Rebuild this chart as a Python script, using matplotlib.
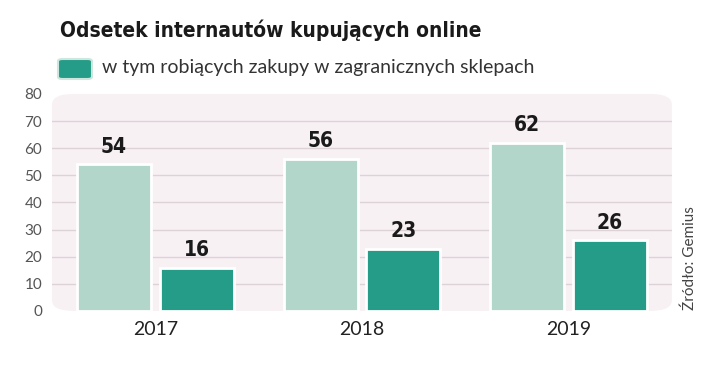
import matplotlib.pyplot as plt
from matplotlib.patches import FancyBboxPatch
import numpy as np

# Data
years = ['2017', '2018', '2019']
all_online = [54, 56, 62]        # odsetek internautów kupujących online
foreign_shops = [16, 23, 26]     # w tym robiących zakupy w zagranicznych sklepach
y_ticks = [0, 10, 20, 30, 40, 50, 60, 70, 80]

light_col = '#b3d6ca'
dark_col = '#259c87'
bg_col = '#f8f1f4'
grid_col = '#dcd2d7'

plt.rcParams['font.family'] = ['Lato', 'DejaVu Sans']
bold_font = dict(family=['DejaVu Sans'], stretch='condensed', fontweight='bold')

fig = plt.figure(figsize=(7.2, 3.68), dpi=100)
ax = fig.add_axes([0.0722, 0.155, 0.861, 0.5897])
ax.set_facecolor('none')

# rounded background panel
ax.add_patch(FancyBboxPatch((0, 0), 1, 1, transform=ax.transAxes,
                            boxstyle='round,pad=0,rounding_size=0.035',
                            mutation_aspect=1.4,
                            facecolor=bg_col, edgecolor='none', zorder=0,
                            clip_on=False))

x = np.arange(len(years))
w = 0.358
off = 0.2
b1 = ax.bar(x - off, all_online, w, color=light_col, edgecolor='white', linewidth=2, zorder=3)
b2 = ax.bar(x + off, foreign_shops, w, color=dark_col, edgecolor='white', linewidth=2, zorder=3)

for bars, vals in ((b1, all_online), (b2, foreign_shops)):
    for r, v in zip(bars, vals):
        ax.text(r.get_x() + r.get_width() / 2, v + 2.8, str(v), ha='center', va='bottom',
                fontsize=15, color='#1a1a1a', **bold_font)

for t in y_ticks[1:-1]:
    ax.axhline(t, color=grid_col, linewidth=1, zorder=1)

ax.set_xlim(-0.5, 2.5)
ax.set_ylim(0, 80)
ax.set_yticks(y_ticks)
ax.set_xticks(x)
ax.set_xticklabels(years, fontsize=14, color='#222222')
ax.tick_params(axis='y', length=0, pad=7, labelsize=11, labelcolor='#555555')
ax.tick_params(axis='x', length=0, pad=7)
for s in ax.spines.values():
    s.set_visible(False)

# title
fig.text(60 / 720, 1 - 30 / 368, 'Odsetek internautów kupujących online',
         fontsize=15, color='#1a1a1a', ha='left', va='center', **bold_font)

# legend
fig.patches.append(FancyBboxPatch((58 / 720, 1 - 79 / 368), 34 / 720, 20 / 368,
                                  boxstyle='round,pad=0,rounding_size=0.006',
                                  transform=fig.transFigure, facecolor=dark_col,
                                  edgecolor='#cfe6de', linewidth=1.5))
fig.text(102 / 720, 1 - 68 / 368, 'w tym robiących zakupy w zagranicznych sklepach',
         fontsize=14, color='#333333', ha='left', va='center')

# source
fig.text(690 / 720, 1 - 310 / 368, 'Źródło: Gemius', rotation=90, fontsize=11,
         color='#444444', ha='center', va='bottom')

fig.savefig('out.png', dpi=100)
